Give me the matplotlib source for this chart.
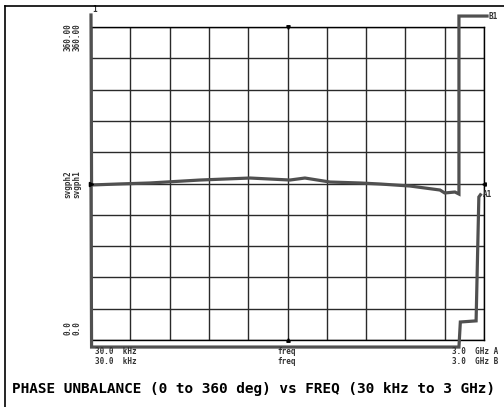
"""Phase unbalance trace, network analyzer style screen dump."""

import matplotlib
matplotlib.use("Agg")
import matplotlib.pyplot as plt
from matplotlib.lines import Line2D

W, H = 504, 407

f_start, f_stop = 30e3, 3e9
ph_min, ph_max = 0.0, 360.0
ref_phase = 180.0

# trace A: ~180 deg across the band, wraps to top near 1.4 GHz
freq_a = [3.0e4, 3.05e4, 7.0e4, 1.69e5, 7.32e5, 3.16e6, 1.02e7, 1.58e7, 3.29e7,
          7.9e7, 1.44e8, 3.44e8, 8.26e8, 9.49e8, 1.28e9, 1.44e9, 1.44e9, 3.28e9]
phase_a = [373.8, 178.3, 179.5, 180.6, 184.0, 186.3, 184.0, 186.3, 181.7,
           180.6, 179.4, 177.1, 172.5, 169.1, 170.2, 167.9, 372.6, 372.6]

# trace B: wraps below zero, comes back up at the top of the band
freq_b = [3.0e4, 3.05e4, 1.44e9, 1.50e9, 2.38e9, 2.58e9, 2.70e9]
phase_b = [178.3, -8.1, -8.1, 20.7, 22.0, 164.5, 167.0]

top_lbl = ["360.00", "360.00"]
mid_lbl = ["svgph2", "svgph1"]
bot_lbl = ["0.0", "0.0"]
x_left = ["30.0  kHz", "30.0  kHz"]
x_mid = ["freq", "freq"]
x_right = ["3.0  GHz A", "3.0  GHz B"]
title = "PHASE UNBALANCE (0 to 360 deg) vs FREQ (30 kHz to 3 GHz)"

TRACE = "#505050"
MONO = "DejaVu Sans Mono"

fig = plt.figure(figsize=(W / 100, H / 100), dpi=100)
fig.patch.set_facecolor("white")

def fx(px):
    return px / W

def fy(py):
    return 1 - py / H

# screen frame (left + top edges)
fig.add_artist(Line2D([fx(5), fx(5)], [fy(6), 0], transform=fig.transFigure,
                      color="black", lw=1.2))
fig.add_artist(Line2D([fx(5), 1], [fy(6), fy(6)], transform=fig.transFigure,
                      color="black", lw=1.2))

ax = fig.add_axes([fx(91), fy(340), fx(484) - fx(91), fy(27) - fy(340)])
ax.set_xscale("log")
ax.set_xlim(f_start, f_stop)
ax.set_ylim(ph_min, ph_max)

# 10 x 10 graticule
for k in range(11):
    ax.axvline(f_start * 10 ** (k / 2), color="#2a2a2a", lw=1.0, zorder=1)
    ax.axhline(ph_min + k * 36, color="#2a2a2a", lw=1.0, zorder=1)
ax.set_xticks([])
ax.set_yticks([])
ax.minorticks_off()
for s in ax.spines.values():
    s.set_color("black")
    s.set_linewidth(1.0)

ax.plot(freq_a, phase_a, color=TRACE, lw=2.3, clip_on=False, zorder=3,
        solid_joinstyle="miter")
ax.plot(freq_b, phase_b, color=TRACE, lw=2.3, clip_on=False, zorder=3,
        solid_joinstyle="miter")

# reference / center markers
f_center = (f_start * f_stop) ** 0.5
ax.plot([f_start], [ref_phase], marker=">", ms=3, color="black", clip_on=False, zorder=4)
ax.plot([f_stop], [ref_phase], marker="<", ms=2.5, color="black", clip_on=False, zorder=4)
ax.plot([f_center], [ph_max], marker="v", ms=2.5, color="black", clip_on=False, zorder=4)
ax.plot([f_center], [ph_min], marker="^", ms=2.5, color="black", clip_on=False, zorder=4)

# marker tags
small = dict(family=MONO, weight="bold", fontsize=5.5, color="#333333")
ax.annotate("1", (freq_a[0], phase_a[0]), xytext=(1, 1), textcoords="offset points",
            ha="left", va="bottom", annotation_clip=False, **small)
ax.annotate("B1", (freq_a[-1], phase_a[-1]), xytext=(1, 0), textcoords="offset points",
            ha="left", va="center", annotation_clip=False, **small)
ax.annotate("A1", (freq_b[-1], phase_b[-1]), xytext=(2, 0), textcoords="offset points",
            ha="left", va="center", annotation_clip=False, **small)

# left side scale labels
for col, xp in enumerate([68, 77]):
    fig.text(fx(xp), fy(37), top_lbl[col], rotation=90, ha="center", va="center", **small)
    fig.text(fx(xp), fy(184), mid_lbl[col], rotation=90, ha="center", va="center", **small)
    fig.text(fx(xp), fy(328), bot_lbl[col], rotation=90, ha="center", va="center", **small)

# bottom frequency labels
for row, yp in enumerate([352, 361]):
    fig.text(fx(95), fy(yp), x_left[row], ha="left", va="center", **small)
    fig.text(fx(287), fy(yp), x_mid[row], ha="center", va="center", **small)
    fig.text(fx(452), fy(yp), x_right[row], ha="left", va="center", **small)

fig.text(fx(254), fy(389), title, ha="center", va="center", family=MONO,
         weight="bold", fontsize=10.4, color="black")

fig.savefig("out.png", dpi=100)
